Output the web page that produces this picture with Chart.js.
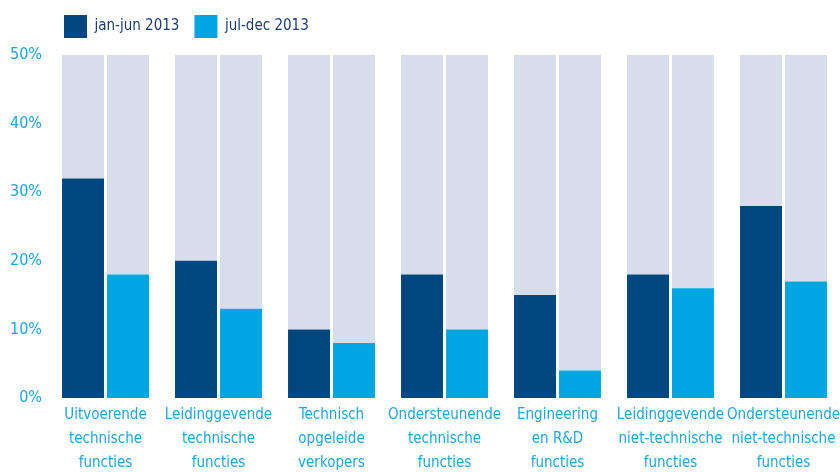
<!DOCTYPE html>
<html>
<head>
<meta charset="utf-8">
<script src="https://cdn.jsdelivr.net/npm/chart.js@4.4.1/dist/chart.umd.min.js"></script>
<style>
  html, body { margin: 0; padding: 0; background: #fff; overflow: hidden; }
  #wrap { position: relative; width: 840px; height: 480px; }
</style>
</head>
<body>
<div id="wrap"><canvas id="chart"></canvas></div>
<script>
const categories = [
    ['Uitvoerende', 'technische', 'functies'],
    ['Leidinggevende', 'technische', 'functies'],
    ['Technisch', 'opgeleide', 'verkopers'],
    ['Ondersteunende', 'technische', 'functies'],
    ['Engineering', 'en R&D', 'functies'],
    ['Leidinggevende', 'niet-technische', 'functies'],
    ['Ondersteunende', 'niet-technische', 'functies']
];
const firstHalf = [32, 20, 10, 18, 15, 18, 28];
const secondHalf = [18, 13, 8, 10, 4, 16, 17];
const seriesNames = ['jan-jun 2013', 'jul-dec 2013'];
const yTicks = [0, 10, 20, 30, 40, 50];
const yMax = 50;

const DARK = '#00467f';
const LIGHT = '#00a6e2';
const TRACK = '#d7ddea';
const CYAN = '#1ea5df';
const NAVY = '#1d3c6e';
const FONT = "'Liberation Sans Narrow', 'DejaVu Sans Condensed', sans-serif";

// grey part of each bar, up to the 50% top
const rest = arr => arr.map(v => yMax - v);

const common = {
    categoryPercentage: 0.796,
    barPercentage: 0.933,
    borderWidth: 0
};

const chartConfig = {
    type: 'bar',
    data: {
        labels: categories,
        datasets: [
            { ...common, label: seriesNames[0], data: firstHalf, backgroundColor: DARK, stack: 'a' },
            { ...common, label: '_track', data: rest(firstHalf), backgroundColor: TRACK, stack: 'a' },
            { ...common, label: seriesNames[1], data: secondHalf, backgroundColor: LIGHT, stack: 'b' },
            { ...common, label: '_track', data: rest(secondHalf), backgroundColor: TRACK, stack: 'b' }
        ]
    },
    options: {
        responsive: true,
        maintainAspectRatio: false,
        animation: false,
        layout: { padding: { top: 0, right: 0, left: 3, bottom: 0 } },
        plugins: {
            legend: {
                position: 'top',
                align: 'start',
                fullSize: false,
                labels: {
                    filter: item => item.text !== '_track',
                    boxWidth: 23,
                    boxHeight: 23,
                    padding: 15,
                    color: NAVY,
                    font: { family: FONT, size: 15 }
                }
            },
            // empty spacer between legend and bars
            subtitle: {
                display: true,
                text: '',
                weight: 500,
                font: { size: 1, lineHeight: 1 },
                padding: { top: 0, bottom: 6 }
            },
            tooltip: { enabled: false }
        },
        scales: {
            x: {
                // let the bars run to the right edge, like the original
                afterFit: axis => { axis.paddingRight = 0; },
                grid: { display: false, drawTicks: false },
                border: { display: false },
                ticks: {
                    color: CYAN,
                    font: { family: FONT, size: 15, lineHeight: 1.6 },
                    maxRotation: 0,
                    autoSkip: false,
                    padding: 5
                }
            },
            y: {
                stacked: true,
                min: 0,
                max: yMax,
                afterBuildTicks: axis => { axis.ticks = yTicks.map(v => ({ value: v })); },
                grid: { display: false, drawTicks: false },
                border: { display: false },
                ticks: {
                    color: CYAN,
                    font: { family: FONT, size: 16 },
                    padding: 7,
                    callback: v => v + '%'
                }
            }
        }
    }
};

new Chart(document.getElementById('chart'), chartConfig);
</script>
</body>
</html>
